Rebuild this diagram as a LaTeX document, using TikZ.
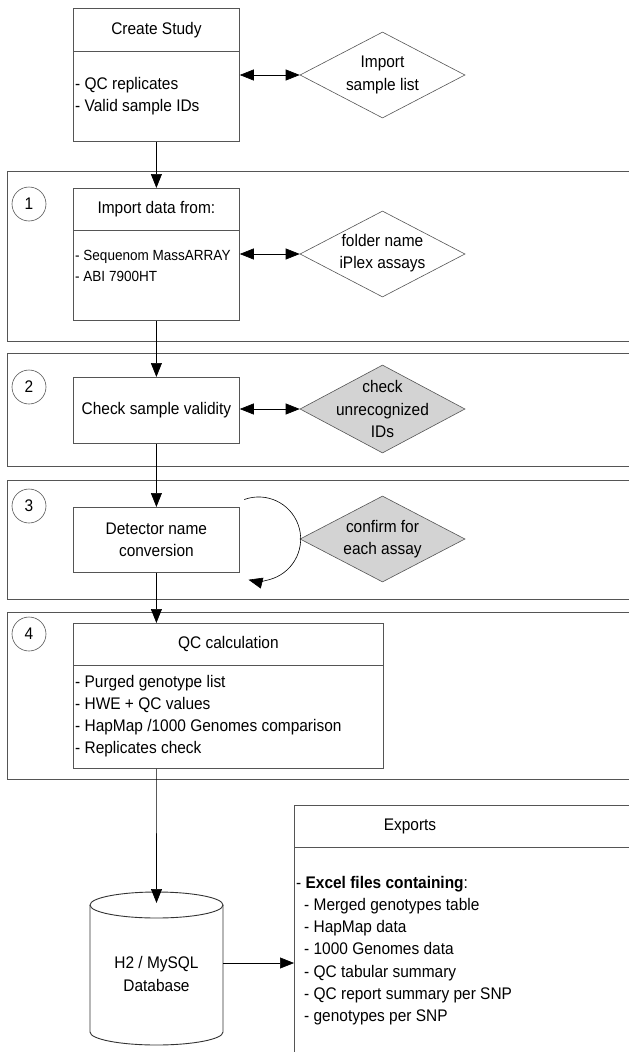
\documentclass[tikz,border=0pt]{standalone}
\usepackage{fontspec}
\setmainfont{Liberation Sans}[FakeStretch=0.92]
\usetikzlibrary{shapes.geometric,arrows.meta}
\definecolor{lgray}{RGB}{211,211,211}
\definecolor{edgec}{RGB}{85,85,85}
\newcommand{\fsmain}{\fontsize{16.8}{22.2}\selectfont}
\newcommand{\fssmall}{\fontsize{14.7}{21}\selectfont}
\begin{document}
\begin{tikzpicture}[x=1pt,y=-1pt,
  every node/.style={font=\fsmain},
  box/.style={draw=edgec, line width=0.8pt, rectangle, inner sep=0pt, anchor=north west},
  panel/.style={draw=edgec, line width=0.8pt, rectangle, inner sep=0pt, anchor=north west, minimum width=640pt},
  num/.style={draw=edgec, line width=0.6pt, circle, minimum size=34pt, inner sep=0pt},
  dia/.style={draw=edgec, line width=0.6pt, diamond, minimum width=165pt, minimum height=86pt, inner sep=0pt},
  conn/.style={draw=black, line width=0.6pt},
  tip/.style={-{Triangle[length=14pt,width=11pt]}},
  dtip/.style={{Triangle[length=14pt,width=11pt]}-{Triangle[length=14pt,width=11pt]}},
  btxt/.style={align=left, inner sep=0pt},
  ctxt/.style={align=center, inner sep=0pt}
]
\useasboundingbox (0,0) rectangle (629,1052);

% Create study
\node[box, minimum width=166pt, minimum height=43pt] (ct) at (73,8) {Create Study};
\node[box, minimum width=166pt, minimum height=90pt] (cb) at (73,51) {};
\node[btxt, anchor=west] (cbt) at (75,96) {- QC replicates\\- Valid sample IDs};
\node[dia] (imp) at (382.5,75) {};
\node[ctxt] (impt) at (imp.center) {Import\\sample list};

% Step 1
\node[panel, minimum height=170pt] (p1) at (7,171) {};
\node[num] (n1) at (29,204) {1};
\node[box, minimum width=166pt, minimum height=42pt] (it) at (73,188) {Import data from:};
\node[box, minimum width=166pt, minimum height=90pt] (ib) at (73,230) {};
\node[btxt, anchor=west, font=\fssmall] (ibt) at (75,266) {- Sequenom MassARRAY\\- ABI 7900HT};
\node[dia] (fd) at (382.5,254) {};
\node[ctxt] (fdt) at (382.5,253) {folder name\\iPlex assays};

% Step 2
\node[panel, minimum height=113pt] (p2) at (7,353) {};
\node[num] (n2) at (29,387) {2};
\node[box, minimum width=166pt, minimum height=66pt] (chk) at (73,377) {Check sample validity};
\node[dia, fill=lgray, minimum height=88pt] (cu) at (382.5,409) {};
\node[ctxt] (cut) at (cu.center) {check\\unrecognized\\IDs};

% Step 3
\node[panel, minimum height=119pt] (p3) at (7,480) {};
\node[num] (n3) at (29,506) {3};
\node[box, minimum width=166pt, minimum height=65pt, align=center] (det) at (73,507) {Detector name\\conversion};
\node[dia, fill=lgray] (cf) at (382.5,539) {};
\node[ctxt] (cft) at (cf.center) {confirm for\\each assay};

% Step 4
\node[panel, minimum height=167pt] (p4) at (7,612) {};
\node[num] (n4) at (29,634) {4};
\node[box, minimum width=310pt, minimum height=42pt] (qt) at (73,623) {QC calculation};
\node[box, minimum width=310pt, minimum height=103pt] (qb) at (73,665) {};
\node[btxt, anchor=west] (qbt) at (75,716) {- Purged genotype list\\- HWE + QC values\\- HapMap /1000 Genomes comparison\\- Replicates check};

% Database
\node[inner sep=0pt, minimum width=133pt, minimum height=153pt] (db) at (156.5,968.5) {};
\draw[edgec!60!black, line width=0.9pt, fill=white] (90,905) -- (90,1032) arc[x radius=66.5, y radius=13, start angle=180, end angle=0] -- (223,905);
\draw[edgec!60!black, line width=0.9pt] (156.5,905) ellipse [x radius=66.5, y radius=13];
\node[ctxt] (dbt) at (156.5,974) {H2 / MySQL\\Database};
\coordinate (dbtop) at (156.5,903);

% Exports
\node[box, minimum width=420pt, minimum height=42pt] (et) at (294,805) {};
\node (ett) at (410,826) {Exports};
\node[box, minimum width=420pt, minimum height=260pt] (eb) at (294,847) {};
\node[btxt, anchor=north west] (ebt) at (296,876) {- \textbf{Excel files containing}:\\
\hspace*{8pt}- Merged genotypes table\\
\hspace*{8pt}- HapMap data\\
\hspace*{8pt}- 1000 Genomes data\\
\hspace*{8pt}- QC tabular summary\\
\hspace*{8pt}- QC report summary per SNP\\
\hspace*{8pt}- genotypes per SNP};

% Connectors
\draw[conn,tip] (cb.south) -- (it.north);
\draw[conn,dtip] (imp.west -| cb.east) -- (imp.west);
\draw[conn,tip] (ib.south) -- (chk.north);
\draw[conn,dtip] (fd.west -| ib.east) -- (fd.west);
\draw[conn,dtip] (cu.west -| chk.east) -- (cu.west);
\draw[conn,tip] (chk.south) -- (det.north);
\draw[conn,tip] ([xshift=4.5pt,yshift=7.5pt]det.north east) arc[start angle=-110, end angle=104, radius=42];
\draw[conn,tip] (det.south) -- (det.south |- qt.north);
\draw[conn,tip] (qb.south -| det.south) -- (dbtop);
\draw[conn,tip] ([yshift=5.5pt]db.east) -- ([yshift=5.5pt]db.east -| eb.west);
\end{tikzpicture}
\end{document}
